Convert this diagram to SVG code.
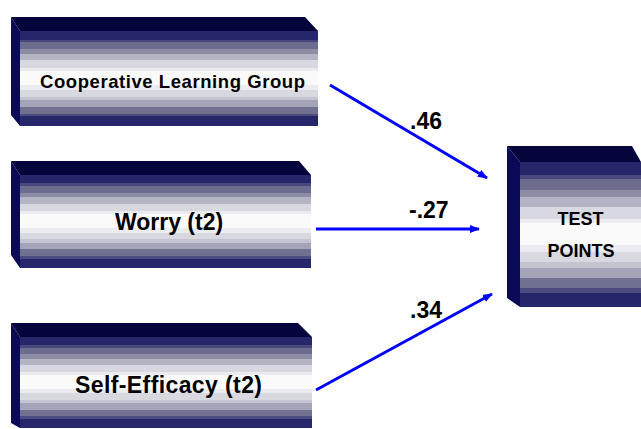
<svg xmlns="http://www.w3.org/2000/svg" width="641" height="429" viewBox="0 0 641 429">
<defs>
<linearGradient id="band" x1="0" y1="0" x2="0" y2="1">
<stop offset="0" stop-color="#26266a"/><stop offset="0.09" stop-color="#26266a"/>
<stop offset="0.09" stop-color="#48487e"/><stop offset="0.12" stop-color="#48487e"/>
<stop offset="0.12" stop-color="#6c6c8e"/><stop offset="0.19" stop-color="#6c6c8e"/>
<stop offset="0.19" stop-color="#8c8ca4"/><stop offset="0.24" stop-color="#8c8ca4"/>
<stop offset="0.24" stop-color="#b4b4c4"/><stop offset="0.31" stop-color="#b4b4c4"/>
<stop offset="0.31" stop-color="#d8d8e0"/><stop offset="0.39" stop-color="#d8d8e0"/>
<stop offset="0.39" stop-color="#ececf0"/><stop offset="0.42" stop-color="#ececf0"/>
<stop offset="0.42" stop-color="#fafafa"/><stop offset="0.57" stop-color="#fafafa"/>
<stop offset="0.57" stop-color="#ececf0"/><stop offset="0.62" stop-color="#ececf0"/>
<stop offset="0.62" stop-color="#d8d8e0"/><stop offset="0.69" stop-color="#d8d8e0"/>
<stop offset="0.69" stop-color="#c4c4d0"/><stop offset="0.73" stop-color="#c4c4d0"/>
<stop offset="0.73" stop-color="#a4a4b8"/><stop offset="0.80" stop-color="#a4a4b8"/>
<stop offset="0.80" stop-color="#707090"/><stop offset="0.87" stop-color="#707090"/>
<stop offset="0.87" stop-color="#4c4c80"/><stop offset="0.90" stop-color="#4c4c80"/>
<stop offset="0.90" stop-color="#26266a"/><stop offset="1" stop-color="#26266a"/>
</linearGradient>
<marker id="arr" viewBox="0 0 10 8" refX="9" refY="4" markerWidth="10" markerHeight="8" markerUnits="userSpaceOnUse" orient="auto">
<path d="M0,0 L10,4 L0,8 Z" fill="#0000ff"/>
</marker>
<style>
.top{fill:#05053c}
.side{fill:#0a0a58}
.front{fill:url(#band)}
.t{font-family:"Liberation Sans",Arial,sans-serif;font-weight:bold;fill:#000;text-anchor:middle}
.edge{stroke:#0000ff;stroke-width:3;fill:none;marker-end:url(#arr)}
.lbl{font-family:"Liberation Sans",Arial,sans-serif;font-weight:bold;font-size:23px;fill:#000}
</style>
</defs>
<g id="coop">
<polygon class="top" points="11,17 305,17 318,31 20,31"/>
<polygon class="side" points="11,17 20,31 20,126 11,115"/>
<rect class="front" x="20" y="31" width="298" height="95"/>
<text class="t" x="172.5" y="88" font-size="18.5" textLength="265" lengthAdjust="spacing">Cooperative Learning Group</text>
</g>
<g id="worry">
<polygon class="top" points="11,161 299,161 311,175 20,175"/>
<polygon class="side" points="11,161 20,175 20,268 11,255"/>
<rect class="front" x="20" y="175" width="291" height="93"/>
<text class="t" x="169" y="230" font-size="23">Worry (t2)</text>
</g>
<g id="selfeff">
<polygon class="top" points="11,323 298,323 312,337 20,337"/>
<polygon class="side" points="11,323 20,337 20,428 11,423"/>
<rect class="front" x="20" y="337" width="292" height="91"/>
<text class="t" x="168.5" y="393" font-size="23" textLength="187" lengthAdjust="spacing">Self-Efficacy (t2)</text>
</g>
<g id="test">
<polygon class="top" points="507,146 632,146 641,162 520,162"/>
<polygon class="side" points="507,146 520,162 520,307 507,298"/>
<rect class="front" x="520" y="162" width="121" height="145"/>
<text class="t" x="580.5" y="225" font-size="18">TEST</text>
<text class="t" x="581" y="257" font-size="18">POINTS</text>
</g>
<g id="connectors">
<line class="edge" x1="330" y1="85" x2="487" y2="178"/>
<line class="edge" x1="316" y1="229" x2="479" y2="229"/>
<line class="edge" x1="316" y1="390" x2="492" y2="294"/>
<text class="lbl" x="410" y="129">.46</text>
<text class="lbl" x="409" y="218">-.27</text>
<text class="lbl" x="410" y="318">.34</text>
</g>
</svg>
